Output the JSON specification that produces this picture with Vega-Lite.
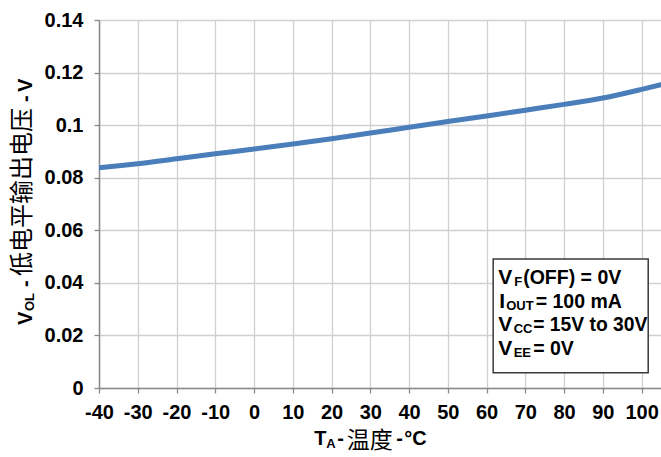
{
  "$schema": "https://vega.github.io/schema/vega-lite/v6.json",
  "width": 562,
  "height": 368,
  "autosize": {"type": "none"},
  "padding": {"left": 99, "top": 20, "right": 0, "bottom": 69},
  "background": "white",
  "config": {
    "view": {"stroke": null},
    "axis": {
      "labelFont": "Liberation Sans",
      "labelFontWeight": "bold",
      "labelFontSize": 20,
      "labelColor": "#000000",
      "labelOverlap": false,
      "labelBound": false,
      "labelFlush": false,
      "grid": true,
      "gridColor": "#d0d0d0",
      "gridWidth": 1.3,
      "domainColor": "#8a8a8a",
      "domainWidth": 1.5,
      "tickColor": "#8a8a8a",
      "tickWidth": 1.3,
      "tickSize": 5
    },
    "text": {"color": "#000000"}
  },
  "layer": [
    {
      "data": {
        "values": [
          {"t": -40, "v": 0.0838},
          {"t": -30, "v": 0.0853},
          {"t": -20, "v": 0.0872},
          {"t": -10, "v": 0.0891},
          {"t": 0, "v": 0.0909},
          {"t": 10, "v": 0.0928},
          {"t": 20, "v": 0.0948},
          {"t": 30, "v": 0.0970},
          {"t": 40, "v": 0.0992},
          {"t": 50, "v": 0.1014},
          {"t": 60, "v": 0.1035},
          {"t": 70, "v": 0.1057},
          {"t": 80, "v": 0.1079},
          {"t": 90, "v": 0.1103},
          {"t": 100, "v": 0.1136},
          {"t": 105, "v": 0.1154}
        ]
      },
      "mark": {"type": "line", "color": "#4a7ebb", "strokeWidth": 5, "strokeCap": "round", "interpolate": "monotone", "clip": true},
      "encoding": {
        "x": {
          "field": "t", "type": "quantitative", "title": null,
          "scale": {"domain": [-40, 105], "nice": false, "zero": false},
          "axis": {"values": [-40, -30, -20, -10, 0, 10, 20, 30, 40, 50, 60, 70, 80, 90, 100], "labelPadding": 9, "labelExpr": "toString(datum.value)"}
        },
        "y": {
          "field": "v", "type": "quantitative", "title": null,
          "scale": {"domain": [0, 0.14], "nice": false},
          "axis": {"values": [0, 0.02, 0.04, 0.06, 0.08, 0.1, 0.12, 0.14], "format": "~g", "labelPadding": 11}
        }
      }
    },
    {
      "data": {"values": [{}]},
      "mark": {"type": "rect", "fill": "white", "stroke": "#3a3a3a", "strokeWidth": 1.5},
      "encoding": {
        "x": {"datum": 61.7, "title": null}, "x2": {"datum": 101.7},
        "y": {"datum": 0.0491, "title": null}, "y2": {"datum": 0.0058}
      }
    },
    {"data": {"values": [{}]}, "mark": {"type": "text", "text": "V", "font": "Liberation Sans", "fontWeight": "bold", "fontSize": 21, "align": "left", "baseline": "alphabetic", "dx": 5},
     "encoding": {"x": {"datum": 61.7, "title": null}, "y": {"datum": 0.03945, "title": null}}},
    {"data": {"values": [{}]}, "mark": {"type": "text", "text": "F", "font": "Liberation Sans", "fontWeight": "bold", "fontSize": 13, "align": "left", "baseline": "alphabetic", "dx": 21, "dy": 1.5},
     "encoding": {"x": {"datum": 61.7, "title": null}, "y": {"datum": 0.03945, "title": null}}},
    {"data": {"values": [{}]}, "mark": {"type": "text", "text": "(OFF) = 0V", "font": "Liberation Sans", "fontWeight": "bold", "fontSize": 19.5, "align": "left", "baseline": "alphabetic", "dx": 30},
     "encoding": {"x": {"datum": 61.7, "title": null}, "y": {"datum": 0.03945, "title": null}}},
    {"data": {"values": [{}]}, "mark": {"type": "text", "text": "I", "font": "Liberation Sans", "fontWeight": "bold", "fontSize": 21, "align": "left", "baseline": "alphabetic", "dx": 6},
     "encoding": {"x": {"datum": 61.7, "title": null}, "y": {"datum": 0.03032, "title": null}}},
    {"data": {"values": [{}]}, "mark": {"type": "text", "text": "OUT", "font": "Liberation Sans", "fontWeight": "bold", "fontSize": 13, "align": "left", "baseline": "alphabetic", "dx": 13, "dy": 1.5},
     "encoding": {"x": {"datum": 61.7, "title": null}, "y": {"datum": 0.03032, "title": null}}},
    {"data": {"values": [{}]}, "mark": {"type": "text", "text": "= 100 mA", "font": "Liberation Sans", "fontWeight": "bold", "fontSize": 19.5, "align": "left", "baseline": "alphabetic", "dx": 42.5},
     "encoding": {"x": {"datum": 61.7, "title": null}, "y": {"datum": 0.03032, "title": null}}},
    {"data": {"values": [{}]}, "mark": {"type": "text", "text": "V", "font": "Liberation Sans", "fontWeight": "bold", "fontSize": 21, "align": "left", "baseline": "alphabetic", "dx": 5},
     "encoding": {"x": {"datum": 61.7, "title": null}, "y": {"datum": 0.02168, "title": null}}},
    {"data": {"values": [{}]}, "mark": {"type": "text", "text": "CC", "font": "Liberation Sans", "fontWeight": "bold", "fontSize": 13, "align": "left", "baseline": "alphabetic", "dx": 20.5, "dy": 1.5},
     "encoding": {"x": {"datum": 61.7, "title": null}, "y": {"datum": 0.02168, "title": null}}},
    {"data": {"values": [{}]}, "mark": {"type": "text", "text": "= 15V to 30V", "font": "Liberation Sans", "fontWeight": "bold", "fontSize": 19.3, "align": "left", "baseline": "alphabetic", "dx": 40},
     "encoding": {"x": {"datum": 61.7, "title": null}, "y": {"datum": 0.02168, "title": null}}},
    {"data": {"values": [{}]}, "mark": {"type": "text", "text": "V", "font": "Liberation Sans", "fontWeight": "bold", "fontSize": 21, "align": "left", "baseline": "alphabetic", "dx": 5},
     "encoding": {"x": {"datum": 61.7, "title": null}, "y": {"datum": 0.01255, "title": null}}},
    {"data": {"values": [{}]}, "mark": {"type": "text", "text": "EE", "font": "Liberation Sans", "fontWeight": "bold", "fontSize": 13, "align": "left", "baseline": "alphabetic", "dx": 20.5, "dy": 1.5},
     "encoding": {"x": {"datum": 61.7, "title": null}, "y": {"datum": 0.01255, "title": null}}},
    {"data": {"values": [{}]}, "mark": {"type": "text", "text": "= 0V", "font": "Liberation Sans", "fontWeight": "bold", "fontSize": 19.5, "align": "left", "baseline": "alphabetic", "dx": 40},
     "encoding": {"x": {"datum": 61.7, "title": null}, "y": {"datum": 0.01255, "title": null}}},

    {"data": {"values": [{}]}, "mark": {"type": "text", "text": "V", "font": "Liberation Sans", "fontWeight": "bold", "fontSize": 20, "align": "left", "baseline": "alphabetic", "angle": 270, "dx": -121, "dy": -67},
     "encoding": {"x": {"datum": -40, "title": null}, "y": {"datum": 0.07, "title": null}}},
    {"data": {"values": [{}]}, "mark": {"type": "text", "text": "OL", "font": "Liberation Sans", "fontWeight": "bold", "fontSize": 13, "align": "left", "baseline": "alphabetic", "angle": 270, "dx": -107, "dy": -65},
     "encoding": {"x": {"datum": -40, "title": null}, "y": {"datum": 0.07, "title": null}}},
    {"data": {"values": [{}]}, "mark": {"type": "text", "text": "-", "font": "Liberation Sans", "fontWeight": "bold", "fontSize": 20, "align": "left", "baseline": "alphabetic", "angle": 270, "dx": -83, "dy": -67},
     "encoding": {"x": {"datum": -40, "title": null}, "y": {"datum": 0.07, "title": null}}},
    {"data": {"values": [{}]}, "mark": {"type": "text", "text": "低电平输出电压", "font": "Noto Sans CJK SC", "fontWeight": "normal", "fontSize": 24, "align": "left", "baseline": "alphabetic", "angle": 270, "dx": -72, "dy": -69},
     "encoding": {"x": {"datum": -40, "title": null}, "y": {"datum": 0.07, "title": null}}},
    {"data": {"values": [{}]}, "mark": {"type": "text", "text": "-", "font": "Liberation Sans", "fontWeight": "bold", "fontSize": 20, "align": "left", "baseline": "alphabetic", "angle": 270, "dx": 102, "dy": -67},
     "encoding": {"x": {"datum": -40, "title": null}, "y": {"datum": 0.07, "title": null}}},
    {"data": {"values": [{}]}, "mark": {"type": "text", "text": "V", "font": "Liberation Sans", "fontWeight": "bold", "fontSize": 20, "align": "left", "baseline": "alphabetic", "angle": 270, "dx": 112, "dy": -67},
     "encoding": {"x": {"datum": -40, "title": null}, "y": {"datum": 0.07, "title": null}}},

    {"data": {"values": [{}]}, "mark": {"type": "text", "text": "T", "font": "Liberation Sans", "fontWeight": "bold", "fontSize": 20, "align": "left", "baseline": "alphabetic", "dx": -56, "dy": 57},
     "encoding": {"x": {"datum": 30, "title": null}, "y": {"datum": 0, "title": null}}},
    {"data": {"values": [{}]}, "mark": {"type": "text", "text": "A", "font": "Liberation Sans", "fontWeight": "bold", "fontSize": 13, "align": "left", "baseline": "alphabetic", "dx": -44, "dy": 60},
     "encoding": {"x": {"datum": 30, "title": null}, "y": {"datum": 0, "title": null}}},
    {"data": {"values": [{}]}, "mark": {"type": "text", "text": "-", "font": "Liberation Sans", "fontWeight": "bold", "fontSize": 20, "align": "left", "baseline": "alphabetic", "dx": -33, "dy": 57},
     "encoding": {"x": {"datum": 30, "title": null}, "y": {"datum": 0, "title": null}}},
    {"data": {"values": [{}]}, "mark": {"type": "text", "text": "温度", "font": "Noto Sans CJK SC", "fontWeight": "normal", "fontSize": 23, "align": "left", "baseline": "alphabetic", "dx": -23.5, "dy": 59.5},
     "encoding": {"x": {"datum": 30, "title": null}, "y": {"datum": 0, "title": null}}},
    {"data": {"values": [{}]}, "mark": {"type": "text", "text": "-", "font": "Liberation Sans", "fontWeight": "bold", "fontSize": 20, "align": "left", "baseline": "alphabetic", "dx": 26, "dy": 57},
     "encoding": {"x": {"datum": 30, "title": null}, "y": {"datum": 0, "title": null}}},
    {"data": {"values": [{}]}, "mark": {"type": "text", "text": "°C", "font": "Liberation Sans", "fontWeight": "bold", "fontSize": 20, "align": "left", "baseline": "alphabetic", "dx": 34, "dy": 57},
     "encoding": {"x": {"datum": 30, "title": null}, "y": {"datum": 0, "title": null}}}
  ]
}
